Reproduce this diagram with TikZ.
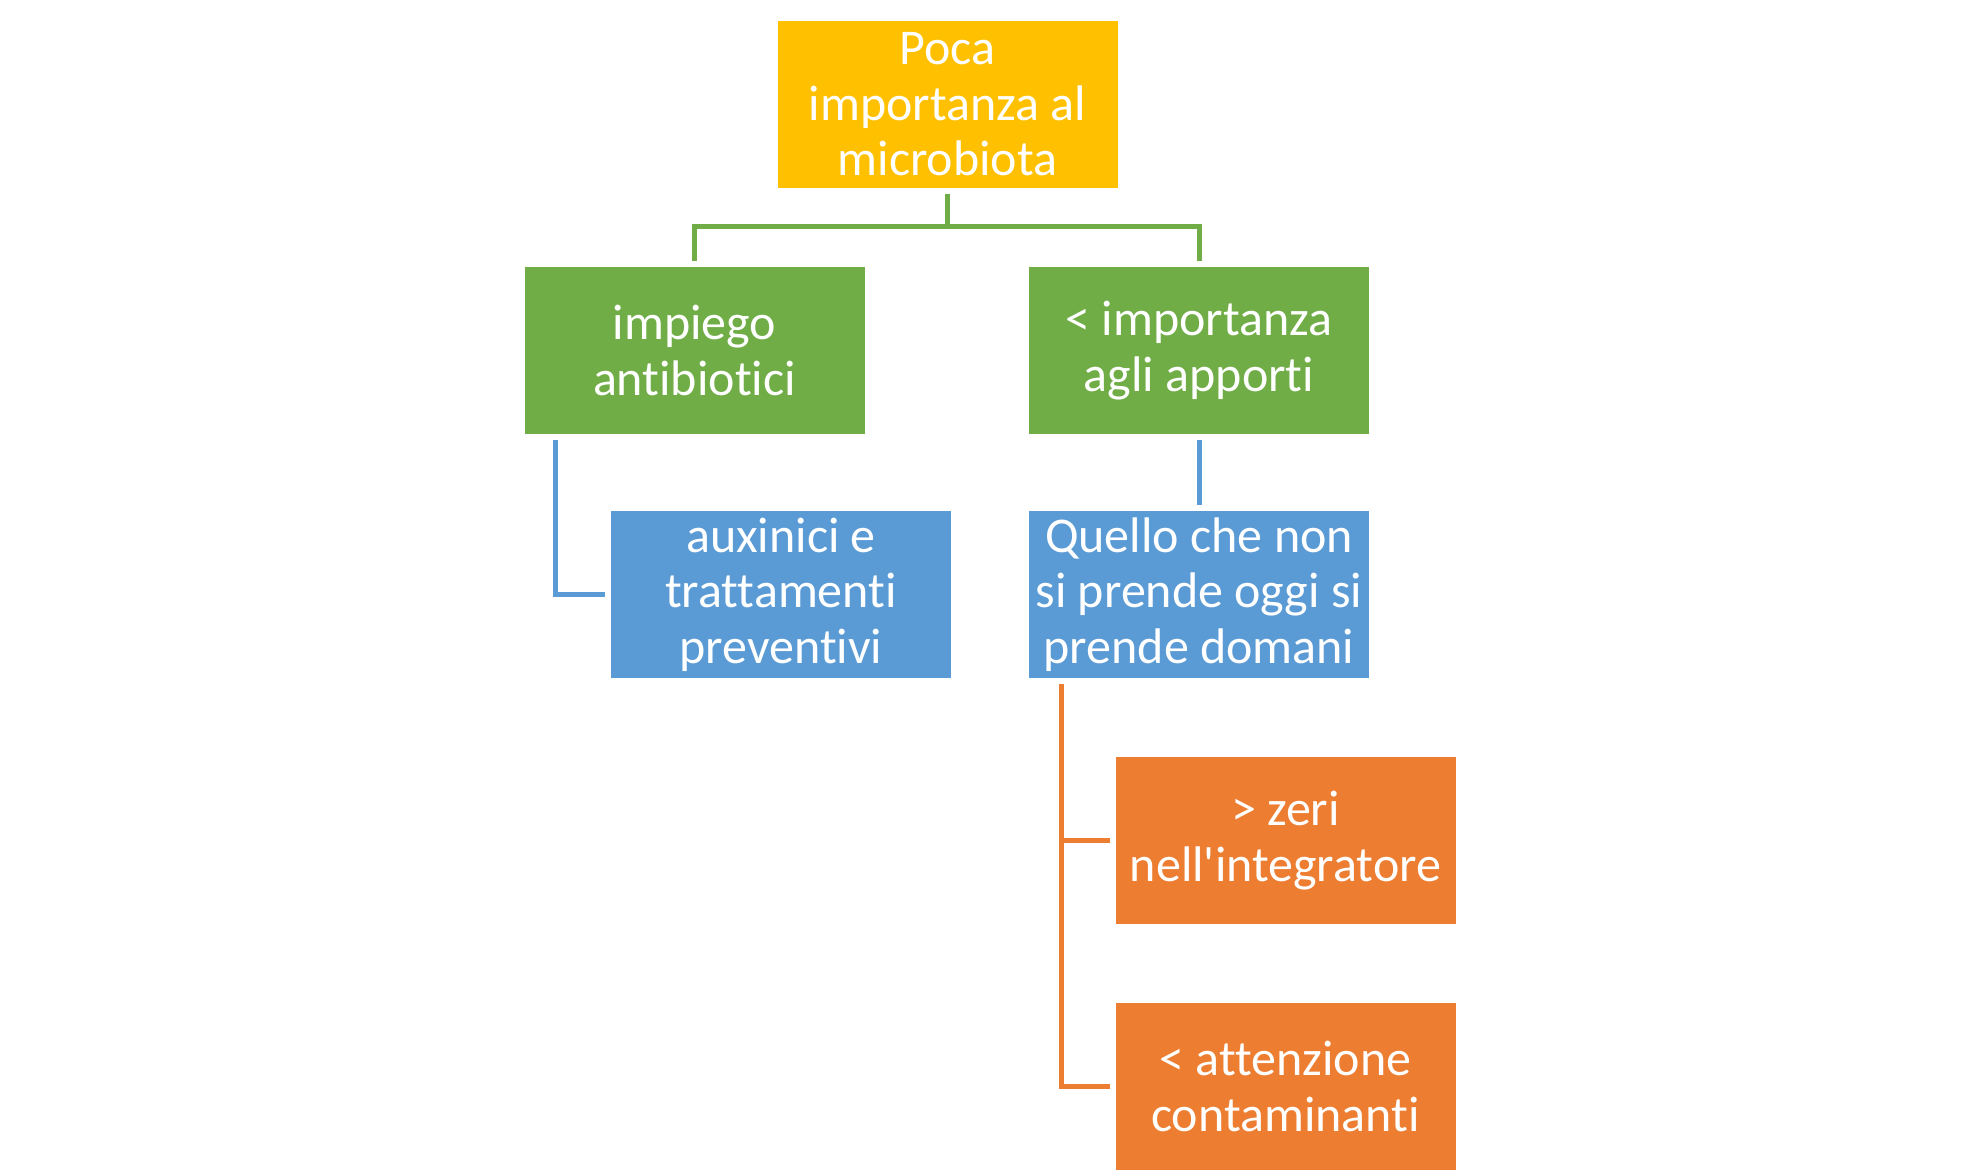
\documentclass[tikz,border=0pt]{standalone}
\usepackage{fontspec}
\setmainfont[Ligatures={NoCommon}]{Carlito}
\usetikzlibrary{positioning,calc}
\definecolor{boxgold}{HTML}{FFC000}
\definecolor{boxgreen}{HTML}{70AD47}
\definecolor{boxblue}{HTML}{5B9BD5}
\definecolor{boxorange}{HTML}{ED7D31}
\begin{document}
\begin{tikzpicture}[x=0.5pt,y=-0.5pt,
  card/.style={minimum width=170pt,minimum height=83.5pt,inner sep=2pt,outer sep=3pt,
    align=center,text=white,font=\fontsize{25}{27.8}\selectfont},
  link/.style={line width=2.5pt}]
\useasboundingbox (0,0) rectangle (1980,1176);
\node[card,fill=boxgold] (poca) at (947.5,104.5) {Poca\\importanza al\\microbiota};
\node[card,fill=boxgreen] (impiego) at (694.5,350.5) {impiego\\antibiotici};
\node[card,fill=boxgreen] (apporti) at (1199,350.5) {< importanza\\agli apporti};
\node[card,fill=boxblue] (auxinici) at (781,594.5) {auxinici e\\trattamenti\\preventivi};
\node[card,fill=boxblue] (quello) at (1199,594.5) {Quello che non\\si prende oggi si\\prende domani};
\node[card,fill=boxorange] (zeri) at (1285.5,840.5) {> zeri\\nell\textquotesingle integratore};
\node[card,fill=boxorange] (attenzione) at (1285.5,1086.5) {< attenzione\\contaminanti};
\draw[link,boxgreen] (poca.south) -- ++(0,33) coordinate (fork) -| (impiego.north);
\draw[link,boxgreen] (fork) -| (apporti.north);
\draw[link,boxblue] ([xshift=18.5pt]impiego.south west) |- (auxinici.west);
\draw[link,boxblue] (apporti.south) -- (quello.north);
\draw[link,boxorange] ([xshift=19pt]quello.south west) |- (zeri.west);
\draw[link,boxorange] ([xshift=19pt]quello.south west) |- (attenzione.west);
\end{tikzpicture}
\end{document}
